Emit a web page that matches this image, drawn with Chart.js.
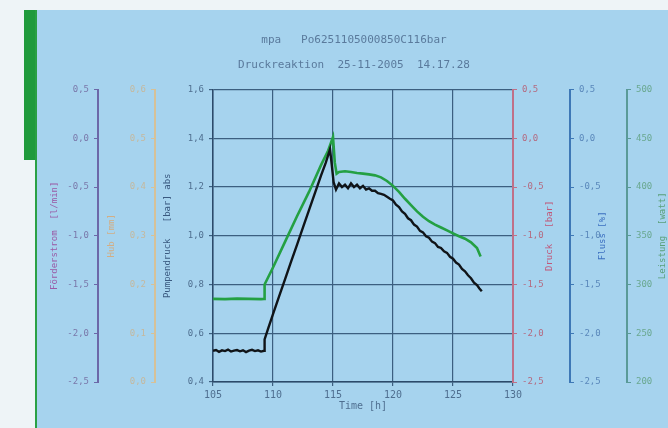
<!DOCTYPE html>
<html><head><meta charset="utf-8">
<script src="https://cdn.jsdelivr.net/npm/chart.js@4/dist/chart.umd.min.js"></script>
<style>
html,body{margin:0;padding:0;background:#eef4f7;width:668px;height:428px;overflow:hidden}
#panel{position:absolute;left:37px;top:10px;width:631px;height:418px;background:#a6d3ee}
#bar{position:absolute;left:24px;top:10px;width:13px;height:150px;background:#1f9a3c}
#line{position:absolute;left:35px;top:10px;width:2px;height:418px;background:#2aa045}
canvas{position:absolute;left:0;top:0}
</style></head><body>
<div id="bar"></div><div id="line"></div>
<div id="panel"><canvas id="c" width="631" height="418"></canvas></div>
<script>
// ---- data ----
const titleLines = ["mpa   Po6251105000850C116bar", "Druckreaktion  25-11-2005  14.17.28"];
const xTicks = [105, 110, 115, 120, 125, 130];

const blackTime = [105,105.25,105.5,105.75,106,106.25,106.5,106.75,107,107.25,107.5,107.75,108,108.25,108.5,108.75,109,109.25,
  109.3,109.6,110,110.5,111,111.5,112,112.5,113,113.5,114,114.4,114.75,114.9,115.05,115.25,115.5,115.75,116,116.25,116.5,116.75,
  117,117.25,117.5,117.75,118,118.25,118.5,118.75,119,119.25,119.5,119.75,120,120.25,120.5,120.75,121,121.25,121.5,121.75,122,122.25,122.5,122.75,
  123,123.25,123.5,123.75,124,124.25,124.5,124.75,125,125.25,125.5,125.75,126,126.25,126.5,126.75,127,127.2,127.4];
const blackPressure = [0.528,0.531,0.524,0.530,0.527,0.533,0.525,0.529,0.531,0.526,0.530,0.523,0.529,0.532,0.527,0.530,0.525,0.528,
  0.575,0.62,0.679,0.75,0.821,0.893,0.963,1.035,1.105,1.176,1.247,1.30,1.355,1.29,1.22,1.19,1.215,1.20,1.21,1.195,1.215,1.20,
  1.21,1.195,1.205,1.19,1.195,1.185,1.185,1.175,1.172,1.168,1.16,1.152,1.145,1.128,1.118,1.100,1.090,1.072,1.064,1.046,1.038,1.020,1.014,0.998,
  0.992,0.976,0.970,0.954,0.950,0.936,0.930,0.914,0.906,0.890,0.882,0.864,0.854,0.838,0.826,0.808,0.798,0.784,0.772];

const greenTime = [105,106,107,108,109,109.25,109.3,110,111,112,113,114,114.6,115,115.15,115.3,115.5,116,116.5,117,117.5,118,118.5,119,119.5,
  120,120.5,121,121.5,122,122.5,123,123.5,124,124.5,125,125.5,126,126.5,127,127.3];
const greenValue = [0.741,0.740,0.742,0.741,0.740,0.741,0.80,0.87,0.975,1.08,1.18,1.29,1.35,1.405,1.30,1.255,1.262,1.265,1.262,1.258,1.255,1.252,1.248,1.24,1.225,
  1.205,1.18,1.152,1.126,1.1,1.078,1.06,1.046,1.034,1.022,1.01,0.998,0.988,0.973,0.95,0.915];

const axisTitles = {
  purple: "Förderstrom  [l/min]",
  orange: "Hub [mm]",
  black: "Pumpendruck   [bar] abs",
  red: "Druck   [bar]",
  blue: "Fluss [%]",
  green: "Leistung  [watt]",
  x: "Time [h]"
};

// ---- chart ----
const MONO = "'DejaVu Sans Mono', 'Liberation Mono', monospace";
const fmt = v => Number(v).toFixed(1).replace('.', ',');
const pts = (xs, ys) => xs.map((x, i) => ({x, y: ys[i]}));

function sideAxis(pos, min, max, step, color, labelColor, titleColor, title, width, titlePad, cb) {
  return {
    type: 'linear', position: pos, min, max,
    afterFit: s => { s.width = width; },
    grid: { drawOnChartArea: false, drawTicks: true, tickLength: 4, color, lineWidth: 1 },
    border: { display: true, color, width: 2 },
    ticks: { stepSize: step, padding: 5, color: labelColor, font: { family: MONO, size: 9 }, callback: cb || fmt },
    title: { display: pos === 'left', text: title, color: titleColor, font: { family: MONO, size: 9 }, padding: { top: titlePad, bottom: 0 } },
    _rt: { text: title, color: titleColor, off: titlePad }
  };
}

// right-hand axis titles read bottom-to-top in the reference
const rightTitles = {
  id: 'rightTitles',
  afterDraw(chart) {
    const ctx = chart.ctx;
    ['yRed', 'yBlue', 'yGreen'].forEach(id => {
      const s = chart.scales[id];
      const rt = chart.options.scales[id]._rt;
      ctx.save();
      ctx.translate(s.right - rt.off, (s.top + s.bottom) / 2);
      ctx.rotate(-Math.PI / 2);
      ctx.font = "9px " + MONO;
      ctx.fillStyle = rt.color;
      ctx.textAlign = 'center';
      ctx.textBaseline = 'middle';
      ctx.fillText(rt.text, 0, 0);
      ctx.restore();
    });
  }
};

new Chart(document.getElementById('c'), {
  type: 'line',
  plugins: [rightTitles],
  data: {
    datasets: [
      { data: pts(blackTime, blackPressure), borderColor: '#101418', borderWidth: 2.4, pointRadius: 0, yAxisID: 'y', order: 1 },
      { data: pts(greenTime, greenValue), borderColor: '#24a043', borderWidth: 2.6, pointRadius: 0, yAxisID: 'y', order: 2 }
    ]
  },
  options: {
    responsive: false, animation: false, devicePixelRatio: 1,
    layout: { padding: { left: 3, right: 0, top: 0, bottom: 12 } },
    plugins: {
      legend: { display: false }, tooltip: { enabled: false },
      title: { display: true, text: titleLines, color: '#5a7a9c',
        font: { family: MONO, size: 11, weight: 'normal', lineHeight: 2.3 },
        padding: { top: 17, bottom: 12 } }
    },
    scales: {
      x: {
        type: 'linear', position: 'bottom', min: 105, max: 130,
        afterFit: s => { s.height = 34; },
        afterBuildTicks: s => { s.ticks = xTicks.map(v => ({value: v})); },
        grid: { color: '#3c5f80', lineWidth: 1.2, tickLength: 4 },
        border: { color: '#2c4a6a', width: 1.5 },
        ticks: { padding: 3, color: '#4f6f90', font: { family: MONO, size: 10 }, callback: v => String(v) },
        title: { display: true, text: axisTitles.x, color: '#4f6f90', font: { family: MONO, size: 10 }, padding: { top: 0, bottom: 4 } }
      },
      y: {
        type: 'linear', position: 'left', min: 0.4, max: 1.6,
        afterFit: s => { s.width = 58; },
        grid: { color: '#3c5f80', lineWidth: 1.2, tickLength: 4 },
        border: { color: '#2c4a6a', width: 1.5 },
        ticks: { stepSize: 0.2, padding: 5, color: '#4f6f90', font: { family: MONO, size: 9 }, callback: fmt },
        title: { display: true, text: axisTitles.black, color: '#3a5a80', font: { family: MONO, size: 9 }, padding: { top: 7.5, bottom: 0 } }
      },
      yOrange: sideAxis('left', 0, 0.6, 0.1, '#d6c198', '#c4b89e', '#d2ae85', axisTitles.orange, 57, 8.6),
      yPurple: sideAxis('left', -2.5, 0.5, 0.5, '#6c68a8', '#7a78aa', '#9a5aa6', axisTitles.purple, 58, 9.6),
      yRed: sideAxis('right', -2.5, 0.5, 0.5, '#c07088', '#b46a80', '#c0587a', axisTitles.red, 57, 20),
      yBlue: sideAxis('right', -2.5, 0.5, 0.5, '#3e78b6', '#5a88bb', '#3b6fc0', axisTitles.blue, 57, 24),
      yGreen: sideAxis('right', 200, 500, 50, '#5a9a98', '#6aa890', '#5aa07a', axisTitles.green, 41, 5, v => String(v))
    }
  }
});
</script>
</body></html>
